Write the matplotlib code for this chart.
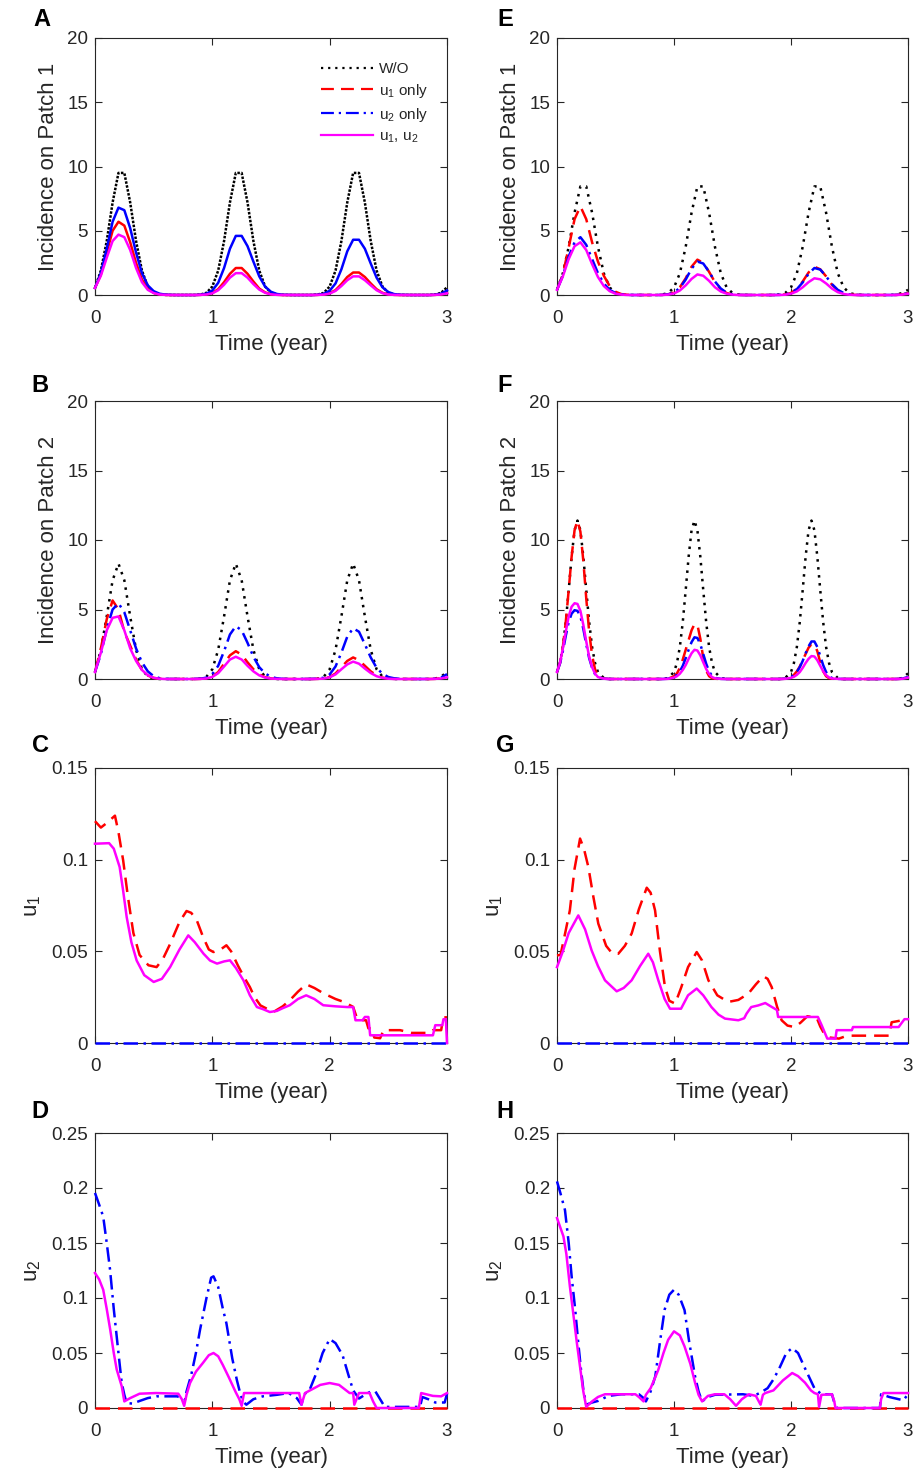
import numpy as np
import matplotlib
matplotlib.use('Agg')
import matplotlib.pyplot as plt
from matplotlib.lines import Line2D

plt.rcParams['font.family'] = ['Liberation Sans', 'DejaVu Sans']
plt.rcParams['mathtext.fontset'] = 'custom'
plt.rcParams['mathtext.rm'] = 'Liberation Sans'
plt.rcParams['mathtext.it'] = 'Liberation Sans'
plt.rcParams['mathtext.bf'] = 'Liberation Sans:bold'

# ---------------- data ----------------
t_grid = np.round(np.arange(61) * 0.05, 3)   # sample times (years)

A_black = [0.55, 1.9, 4.2, 7.2, 9.5, 9.5, 7.2, 4.2, 1.9, 0.66, 0.17, 0.04, 0.01,
           0, 0, 0, 0, 0,
           0.04, 0.17, 0.66, 1.9, 4.2, 7.2, 9.5, 9.5, 7.2, 4.2, 1.9, 0.66, 0.17, 0.04, 0.01,
           0, 0, 0, 0, 0,
           0.04, 0.17, 0.66, 1.9, 4.2, 7.2, 9.5, 9.5, 7.2, 4.2, 1.9, 0.66, 0.17, 0.04, 0.01,
           0, 0, 0, 0, 0,
           0.04, 0.17, 0.6]
A_red = [0.55, 1.6, 3.3, 5.0, 5.7, 5.4, 4.1, 2.5, 1.2, 0.5, 0.18, 0.05, 0.01,
         0, 0, 0, 0, 0,
         0.01, 0.05, 0.16, 0.45, 1.0, 1.65, 2.1, 2.1, 1.65, 1.05, 0.5, 0.2, 0.06, 0.02, 0,
         0, 0, 0, 0, 0,
         0.01, 0.04, 0.14, 0.38, 0.85, 1.4, 1.75, 1.75, 1.4, 0.9, 0.45, 0.17, 0.05, 0.01, 0,
         0, 0, 0, 0, 0,
         0.01, 0.05, 0.16]
A_blue = [0.55, 1.7, 3.6, 5.7, 6.8, 6.6, 5.2, 3.3, 1.7, 0.75, 0.3, 0.1, 0.03,
          0.01, 0, 0, 0, 0,
          0.02, 0.1, 0.35, 0.95, 2.1, 3.6, 4.6, 4.6, 3.8, 2.6, 1.45, 0.65, 0.25, 0.08, 0.02,
          0.01, 0, 0, 0, 0,
          0.02, 0.09, 0.33, 0.9, 2.0, 3.4, 4.3, 4.3, 3.6, 2.45, 1.35, 0.6, 0.23, 0.07, 0.02,
          0.01, 0, 0, 0, 0,
          0.02, 0.1, 0.35]
A_mag = [0.55, 1.5, 2.9, 4.2, 4.7, 4.5, 3.5, 2.1, 1.0, 0.4, 0.15, 0.04, 0.01,
         0, 0, 0, 0, 0,
         0.01, 0.04, 0.13, 0.37, 0.8, 1.35, 1.7, 1.7, 1.35, 0.85, 0.42, 0.17, 0.05, 0.01, 0,
         0, 0, 0, 0, 0,
         0.01, 0.03, 0.11, 0.32, 0.7, 1.15, 1.45, 1.45, 1.15, 0.75, 0.37, 0.14, 0.04, 0.01, 0,
         0, 0, 0, 0, 0,
         0.01, 0.04, 0.13]

E_black = [0.4, 1.69, 3.75, 6.4, 8.45, 8.45, 6.4, 3.75, 1.69, 0.59, 0.15, 0.04, 0.01,
           0, 0, 0, 0, 0,
           0.04, 0.15, 0.59, 1.69, 3.75, 6.4, 8.45, 8.45, 6.4, 3.75, 1.69, 0.59, 0.15, 0.04, 0.01,
           0, 0, 0, 0, 0,
           0.04, 0.15, 0.59, 1.69, 3.75, 6.4, 8.45, 8.45, 6.4, 3.75, 1.69, 0.59, 0.15, 0.04, 0.01,
           0, 0, 0, 0, 0,
           0.04, 0.15, 0.4]
E_red = [0.4, 1.6, 3.7, 5.9, 6.9, 5.9, 4.1, 2.6, 1.5, 0.7, 0.25, 0.07, 0.02,
         0.01, 0, 0, 0, 0,
         0.01, 0.05, 0.2, 0.6, 1.3, 2.2, 2.75, 2.5, 1.8, 1.0, 0.45, 0.15, 0.04, 0.01, 0,
         0, 0, 0, 0, 0,
         0.01, 0.04, 0.16, 0.48, 1.05, 1.75, 2.2, 2.0, 1.45, 0.8, 0.36, 0.12, 0.03, 0.01, 0,
         0, 0, 0, 0, 0,
         0.01, 0.04, 0.15]
E_blue = [0.4, 1.5, 3.0, 4.1, 4.5, 3.9, 2.8, 1.7, 0.9, 0.4, 0.15, 0.05, 0.01,
          0, 0, 0, 0, 0,
          0.01, 0.05, 0.2, 0.55, 1.2, 2.05, 2.6, 2.45, 1.8, 1.05, 0.5, 0.18, 0.05, 0.01, 0,
          0, 0, 0, 0, 0,
          0.01, 0.04, 0.16, 0.45, 0.98, 1.65, 2.1, 1.98, 1.45, 0.85, 0.4, 0.15, 0.04, 0.01, 0,
          0, 0, 0, 0, 0,
          0.01, 0.04, 0.15]
E_mag = [0.4, 1.45, 2.8, 3.8, 4.1, 3.5, 2.4, 1.4, 0.7, 0.3, 0.1, 0.03, 0,
         0, 0, 0, 0, 0,
         0, 0.03, 0.12, 0.35, 0.75, 1.25, 1.6, 1.5, 1.1, 0.6, 0.27, 0.1, 0.03, 0, 0,
         0, 0, 0, 0, 0,
         0, 0.02, 0.1, 0.28, 0.6, 1.0, 1.3, 1.22, 0.9, 0.5, 0.22, 0.08, 0.02, 0, 0,
         0, 0, 0, 0, 0,
         0, 0.03, 0.1]

B_black = [0.5, 2.1, 4.5, 7.1, 8.3, 7.1, 4.5, 2.1, 0.7, 0.17, 0.03, 0, 0,
           0, 0, 0, 0, 0,
           0.03, 0.17, 0.7, 2.1, 4.5, 7.1, 8.3, 7.1, 4.5, 2.1, 0.7, 0.17, 0.03, 0, 0,
           0, 0, 0, 0, 0,
           0.03, 0.17, 0.7, 2.1, 4.5, 7.1, 8.3, 7.1, 4.5, 2.1, 0.7, 0.17, 0.03, 0, 0,
           0, 0, 0, 0, 0,
           0.03, 0.17, 0.5]
B_red = [0.5, 2.2, 4.3, 5.65, 5.0, 3.4, 2.4, 1.4, 0.65, 0.25, 0.08, 0.02, 0,
         0, 0, 0, 0, 0,
         0.01, 0.05, 0.18, 0.5, 1.1, 1.7, 2.0, 1.75, 1.2, 0.7, 0.33, 0.13, 0.04, 0.01, 0,
         0, 0, 0, 0, 0,
         0.01, 0.04, 0.14, 0.4, 0.85, 1.3, 1.55, 1.35, 0.95, 0.55, 0.26, 0.1, 0.03, 0.01, 0,
         0, 0, 0, 0, 0,
         0.01, 0.05, 0.15]
B_blue = [0.5, 1.8, 3.6, 5.0, 5.45, 4.8, 3.5, 2.2, 1.2, 0.55, 0.2, 0.06, 0.01,
          0, 0, 0, 0, 0.01,
          0.02, 0.1, 0.35, 0.95, 2.0, 3.2, 3.8, 3.5, 2.6, 1.6, 0.85, 0.4, 0.15, 0.05, 0.01,
          0, 0, 0, 0, 0.01,
          0.02, 0.1, 0.33, 0.9, 1.9, 3.05, 3.65, 3.4, 2.5, 1.55, 0.8, 0.38, 0.14, 0.05, 0.01,
          0, 0, 0, 0, 0.01,
          0.02, 0.1, 0.35]
B_mag = [0.5, 1.9, 3.5, 4.4, 4.5, 3.5, 2.2, 1.3, 0.65, 0.27, 0.08, 0.02, 0,
         0, 0, 0, 0, 0,
         0.01, 0.04, 0.15, 0.42, 0.9, 1.4, 1.6, 1.4, 0.95, 0.55, 0.26, 0.1, 0.03, 0.01, 0,
         0, 0, 0, 0, 0,
         0.01, 0.03, 0.12, 0.33, 0.7, 1.05, 1.25, 1.1, 0.75, 0.43, 0.2, 0.08, 0.02, 0, 0,
         0, 0, 0, 0, 0,
         0.01, 0.04, 0.12]

t_F = [0, 0.025, 0.05, 0.075, 0.1, 0.125, 0.15, 0.175, 0.2, 0.225, 0.25, 0.275, 0.3, 0.325, 0.35, 0.4, 0.45, 0.5,
       0.9, 0.95, 1.0, 1.025, 1.05, 1.075, 1.1, 1.125, 1.15, 1.175, 1.2, 1.225, 1.25, 1.275, 1.3, 1.325, 1.35, 1.4, 1.45, 1.5,
       1.9, 1.95, 2.0, 2.025, 2.05, 2.075, 2.1, 2.125, 2.15, 2.175, 2.2, 2.225, 2.25, 2.275, 2.3, 2.325, 2.35, 2.4, 2.45, 2.5,
       2.9, 2.95, 3.0]
F_black = [0.5, 1.15, 2.3, 4.1, 6.4, 8.8, 10.7, 11.4, 10.7, 8.8, 6.4, 4.1, 2.3, 1.15, 0.5, 0.07, 0, 0,
           0, 0.07, 0.5, 1.15, 2.3, 4.1, 6.4, 8.8, 10.7, 11.4, 10.7, 8.8, 6.4, 4.1, 2.3, 1.15, 0.5, 0.07, 0, 0,
           0, 0.07, 0.5, 1.15, 2.3, 4.1, 6.4, 8.8, 10.7, 11.4, 10.7, 8.8, 6.4, 4.1, 2.3, 1.15, 0.5, 0.07, 0, 0,
           0, 0.07, 0.4]
F_red = [0.5, 1.15, 2.3, 4.1, 6.4, 8.8, 10.7, 11.4, 10.6, 8.5, 5.8, 3.4, 1.7, 0.7, 0.25, 0.03, 0, 0,
         0, 0.02, 0.2, 0.4, 0.8, 1.4, 2.1, 2.8, 3.5, 3.95, 3.9, 2.9, 1.5, 0.6, 0.2, 0.06, 0.02, 0, 0, 0,
         0, 0.02, 0.15, 0.3, 0.55, 0.9, 1.35, 1.8, 2.25, 2.5, 2.5, 2.0, 1.2, 0.55, 0.2, 0.06, 0.02, 0, 0, 0,
         0, 0.02, 0.15]
F_blue = [0.5, 1.1, 2.0, 3.1, 4.1, 4.7, 4.95, 4.9, 4.5, 3.6, 2.5, 1.5, 0.8, 0.35, 0.13, 0.02, 0, 0,
          0, 0.02, 0.15, 0.3, 0.55, 0.95, 1.5, 2.1, 2.65, 3.0, 2.95, 2.5, 1.8, 1.1, 0.55, 0.22, 0.08, 0.01, 0, 0,
          0, 0.02, 0.13, 0.27, 0.5, 0.85, 1.3, 1.85, 2.35, 2.7, 2.7, 2.3, 1.65, 1.0, 0.5, 0.2, 0.07, 0.01, 0, 0,
          0, 0.02, 0.15]
F_mag = [0.5, 1.15, 2.2, 3.4, 4.5, 5.2, 5.45, 5.4, 4.9, 3.9, 2.7, 1.6, 0.85, 0.38, 0.14, 0.02, 0, 0,
         0, 0.01, 0.1, 0.2, 0.38, 0.65, 1.0, 1.45, 1.85, 2.1, 2.05, 1.7, 1.2, 0.72, 0.36, 0.14, 0.05, 0.01, 0, 0,
         0, 0.01, 0.08, 0.16, 0.3, 0.5, 0.8, 1.15, 1.45, 1.65, 1.62, 1.35, 0.95, 0.56, 0.28, 0.11, 0.04, 0.01, 0, 0,
         0, 0.01, 0.1]

# controls (t, value)
C_red_t = [0, 0.05, 0.1, 0.17, 0.2, 0.24, 0.28, 0.327, 0.38, 0.455, 0.525, 0.58, 0.64, 0.72, 0.78, 0.82, 0.867,
           0.92, 0.97, 1.01, 1.07, 1.12, 1.16, 1.22, 1.27, 1.32, 1.36, 1.41, 1.52, 1.6, 1.66, 1.73, 1.8, 1.87,
           1.95, 2.05, 2.12, 2.2, 2.23, 2.26, 2.31, 2.33, 2.36, 2.38, 2.43, 2.46, 2.6, 2.7, 2.85, 2.88, 2.95,
           2.97, 3.0]
C_red = [0.121, 0.1175, 0.12, 0.124, 0.115, 0.0996, 0.08, 0.06, 0.048, 0.0424, 0.0414, 0.046, 0.054, 0.066,
         0.072, 0.071, 0.067, 0.058, 0.051, 0.0496, 0.051, 0.0533, 0.05, 0.042, 0.036, 0.0305, 0.025, 0.0205,
         0.0169, 0.02, 0.0233, 0.028, 0.032, 0.03, 0.027, 0.024, 0.0224, 0.0197, 0.014, 0.0124, 0.0124, 0.008,
         0.008, 0.003, 0.0026, 0.007, 0.007, 0.0055, 0.0055, 0.007, 0.007, 0.014, 0.014]
C_mag_t = [0, 0.12, 0.16, 0.21, 0.24, 0.27, 0.31, 0.355, 0.42, 0.5, 0.57, 0.64, 0.72, 0.795, 0.85, 0.925, 0.98,
           1.04, 1.1, 1.15, 1.2, 1.265, 1.32, 1.38, 1.43, 1.49, 1.55, 1.6, 1.66, 1.73, 1.8, 1.87, 1.945, 2.05,
           2.15, 2.2, 2.22, 2.28, 2.3, 2.33, 2.345, 2.88, 2.9, 2.96, 2.97, 2.99, 3.0]
C_mag = [0.1087, 0.109, 0.106, 0.096, 0.083, 0.0687, 0.055, 0.045, 0.037, 0.0333, 0.035, 0.0414, 0.051, 0.0587,
         0.055, 0.0487, 0.045, 0.0433, 0.0445, 0.0451, 0.041, 0.0342, 0.026, 0.0196, 0.0185, 0.0169, 0.0175,
         0.019, 0.0206, 0.024, 0.026, 0.024, 0.0206, 0.02, 0.0196, 0.0196, 0.0124, 0.0124, 0.0142, 0.0142,
         0.0042, 0.0042, 0.0097, 0.0097, 0.013, 0.013, 0.0]
G_red_t = [0, 0.03, 0.07, 0.11, 0.15, 0.197, 0.23, 0.268, 0.31, 0.353, 0.42, 0.47, 0.524, 0.58, 0.638, 0.7, 0.767,
           0.8, 0.838, 0.88, 0.923, 0.96, 1.01, 1.06, 1.12, 1.194, 1.24, 1.294, 1.37, 1.464, 1.55, 1.635, 1.7,
           1.763, 1.8, 1.835, 1.88, 1.92, 1.97, 2.03, 2.08, 2.14, 2.22, 2.25, 2.28, 2.33, 2.41, 2.48, 2.84, 2.86,
           3.0]
G_red = [0.0478, 0.048, 0.06, 0.0724, 0.095, 0.1115, 0.106, 0.096, 0.08, 0.0651, 0.053, 0.049, 0.0487, 0.053,
         0.0597, 0.073, 0.0847, 0.082, 0.0724, 0.05, 0.0305, 0.023, 0.0215, 0.03, 0.0414, 0.0496, 0.045, 0.0342,
         0.026, 0.0224, 0.0235, 0.0269, 0.032, 0.0364, 0.035, 0.0305, 0.02, 0.0124, 0.0095, 0.0087, 0.011,
         0.0146, 0.0137, 0.009, 0.0055, 0.003, 0.0024, 0.004, 0.004, 0.0113, 0.013]
G_mag_t = [0, 0.05, 0.1, 0.182, 0.24, 0.296, 0.35, 0.41, 0.51, 0.57, 0.638, 0.71, 0.78, 0.82, 0.866, 0.92, 0.966,
           1.06, 1.12, 1.194, 1.25, 1.32, 1.38, 1.436, 1.55, 1.6, 1.62, 1.66, 1.72, 1.78, 1.84, 1.88, 1.89, 2.23,
           2.26, 2.31, 2.38, 2.39, 2.52, 2.53, 2.92, 2.95, 2.97, 3.0]
G_mag = [0.0414, 0.05, 0.06, 0.0696, 0.062, 0.0505, 0.042, 0.0342, 0.0282, 0.03, 0.0342, 0.042, 0.0487, 0.044,
         0.0342, 0.024, 0.0187, 0.0187, 0.026, 0.0297, 0.026, 0.0196, 0.0155, 0.0133, 0.0124, 0.0135, 0.016,
         0.0196, 0.0205, 0.0218, 0.0195, 0.018, 0.0142, 0.0142, 0.01, 0.0024, 0.0024, 0.007, 0.007, 0.0087,
         0.0087, 0.0113, 0.013, 0.013]
u1_blue_t = [0, 3]
u1_blue = [0, 0]

D_blue_t = [0, 0.035, 0.07, 0.1, 0.128, 0.16, 0.185, 0.21, 0.228, 0.25, 0.27, 0.32, 0.38, 0.45, 0.526, 0.7, 0.74,
            0.767, 0.78, 0.82, 0.86, 0.895, 0.95, 0.99, 1.01, 1.05, 1.09, 1.12, 1.17, 1.21, 1.237, 1.26, 1.29,
            1.35, 1.43, 1.55, 1.65, 1.72, 1.76, 1.78, 1.83, 1.88, 1.94, 2.0, 2.05, 2.11, 2.16, 2.2, 2.25, 2.3,
            2.35, 2.39, 2.43, 2.47, 2.77, 2.79, 2.84, 2.9, 2.98, 3.0]
D_blue = [0.1955, 0.185, 0.174, 0.15, 0.126, 0.09, 0.065, 0.04, 0.0227, 0.012, 0.0045, 0.004, 0.0064, 0.009,
          0.0106, 0.0106, 0.009, 0.0075, 0.015, 0.03, 0.05, 0.071, 0.1, 0.1185, 0.1197, 0.11, 0.09, 0.077, 0.045,
          0.025, 0.0136, 0.006, 0.003, 0.008, 0.0106, 0.012, 0.0136, 0.009, 0.003, 0.012, 0.0167, 0.03, 0.05,
          0.0627, 0.059, 0.048, 0.03, 0.016, 0.0086, 0.012, 0.015, 0.015, 0.008, 0.001, 0.001, 0.01, 0.008,
          0.005, 0.005, 0.013]
D_mag_t = [0, 0.035, 0.07, 0.1, 0.13, 0.16, 0.185, 0.228, 0.25, 0.3, 0.38, 0.52, 0.71, 0.74, 0.76, 0.78, 0.81,
           0.86, 0.92, 0.97, 1.01, 1.05, 1.09, 1.14, 1.2, 1.23, 1.25, 1.27, 1.43, 1.74, 1.76, 1.79, 1.85, 1.92,
           2.0, 2.08, 2.17, 2.2, 2.21, 2.25, 2.34, 2.37, 2.4, 2.76, 2.78, 2.88, 2.95, 3.0]
D_mag = [0.1227, 0.117, 0.1075, 0.09, 0.071, 0.05, 0.035, 0.0197, 0.006, 0.009, 0.013, 0.0136, 0.013, 0.008,
         0.002, 0.012, 0.0227, 0.033, 0.041, 0.048, 0.05, 0.047, 0.039, 0.028, 0.0142, 0.008, 0.002, 0.0136,
         0.0136, 0.0136, 0.003, 0.0136, 0.017, 0.021, 0.0227, 0.021, 0.0136, 0.0136, 0.003, 0.0136, 0.0136,
         0.006, 0.0, 0.0, 0.0136, 0.011, 0.0106, 0.0136]
H_blue_t = [0, 0.03, 0.068, 0.1, 0.125, 0.155, 0.182, 0.205, 0.225, 0.25, 0.3, 0.35, 0.44, 0.55, 0.7, 0.74, 0.76,
            0.8, 0.84, 0.88, 0.92, 0.96, 1.0, 1.04, 1.09, 1.13, 1.18, 1.21, 1.24, 1.29, 1.35, 1.59, 1.68, 1.74,
            1.8, 1.85, 1.9, 1.96, 2.01, 2.06, 2.12, 2.2, 2.26, 2.35, 2.37, 2.39, 2.76, 2.77, 2.84, 2.96, 3.0]
H_blue = [0.206, 0.195, 0.18, 0.15, 0.1197, 0.09, 0.059, 0.035, 0.0167, 0.003, 0.005, 0.0064, 0.011, 0.0125,
          0.0125, 0.009, 0.006, 0.015, 0.0288, 0.06, 0.0894, 0.103, 0.1075, 0.103, 0.089, 0.06, 0.0288, 0.015,
          0.006, 0.01, 0.012, 0.0125, 0.011, 0.014, 0.018, 0.026, 0.036, 0.05, 0.0545, 0.05, 0.036, 0.018,
          0.0125, 0.0125, 0.005, 0.0, 0.0, 0.0125, 0.01, 0.007, 0.0125]
H_mag_t = [0, 0.055, 0.08, 0.11, 0.14, 0.17, 0.2, 0.225, 0.25, 0.3, 0.35, 0.41, 0.67, 0.7, 0.74, 0.76, 0.8, 0.84,
           0.866, 0.91, 0.95, 1.0, 1.05, 1.09, 1.14, 1.18, 1.21, 1.24, 1.29, 1.35, 1.43, 1.48, 1.53, 1.58, 1.64,
           1.7, 1.74, 1.76, 1.78, 1.85, 1.93, 2.01, 2.06, 2.12, 2.17, 2.2, 2.23, 2.24, 2.26, 2.35, 2.37, 2.38,
           2.76, 2.77, 2.79, 3.0]
H_mag = [0.1727, 0.156, 0.14, 0.1106, 0.085, 0.059, 0.035, 0.015, 0.001, 0.006, 0.01, 0.0125, 0.0125, 0.01,
         0.006, 0.012, 0.018, 0.028, 0.0348, 0.05, 0.062, 0.0697, 0.066, 0.056, 0.04, 0.023, 0.012, 0.006, 0.011,
         0.0125, 0.0125, 0.008, 0.002, 0.008, 0.0125, 0.011, 0.003, 0.012, 0.0136, 0.016, 0.025, 0.0318, 0.029,
         0.023, 0.016, 0.0136, 0.0125, 0.001, 0.012, 0.0125, 0.006, 0.0, 0.0, 0.008, 0.0136, 0.0136]
u2_red_t = [0, 3]
u2_red = [0, 0]

x_ticks = [0, 1, 2, 3]
inc_ticks = [0, 5, 10, 15, 20]
u1_ticks = [0, 0.05, 0.1, 0.15]
u1_ticklabels = ['0', '0.05', '0.1', '0.15']
u2_ticks = [0, 0.05, 0.1, 0.15, 0.2, 0.25]
u2_ticklabels = ['0', '0.05', '0.1', '0.15', '0.2', '0.25']
legend_labels = ['W/O', r'u$_1$ only', r'u$_2$ only', r'u$_1$, u$_2$']

# ---------------- styles ----------------
LW = 1.8
BLACK, RED, BLUE, MAG = '#000000', '#FF0000', '#0000FF', '#FF00FF'
DOT = (0, (1.0, 2.2))
DOT_DENSE = (0, (1.0, 0.6))
DASH = (0, (5.8, 3.2))
DASHDOT = (0, (5.8, 2.2, 1.0, 2.2))
TXT = '#262626'

W, H = 922, 1473
fig = plt.figure(figsize=(W / 100, H / 100), dpi=100)
cols = [(95, 447), (557, 908)]
rows = [(38, 295), (401, 679), (768, 1043), (1133, 1408)]


def make_ax(c, r):
    x0, x1 = cols[c]
    y0, y1 = rows[r]
    return fig.add_axes([x0 / W, 1 - y1 / H, (x1 - x0) / W, (y1 - y0) / H])


def style(ax, ylim, yticks, yticklabels, ylabel):
    ax.set_xlim(0, 3)
    ax.set_ylim(*ylim)
    ax.set_xticks(x_ticks)
    ax.set_xticklabels([str(v) for v in x_ticks])
    ax.set_yticks(yticks)
    ax.set_yticklabels(yticklabels)
    ax.tick_params(direction='in', top=True, right=True, length=5, width=0.8,
                   labelsize=13.5, colors=TXT, pad=5)
    ax.tick_params(axis='x', pad=11)
    for s in ax.spines.values():
        s.set_color(TXT)
        s.set_linewidth(0.8)
    ax.set_xlabel('Time (year)', fontsize=16, color=TXT, labelpad=5)
    ax.set_ylabel(ylabel, fontsize=16, color=TXT, labelpad=6)


def plot4(ax, t, blk, red, blu, mag, solid=False):
    ax.plot(t, blk, color=BLACK, lw=LW, ls=DOT_DENSE if solid else DOT, clip_on=False, zorder=2)
    ax.plot(t, red, color=RED, lw=LW, ls='-' if solid else DASH, clip_on=False, zorder=3)
    ax.plot(t, blu, color=BLUE, lw=LW, ls='-' if solid else DASHDOT, clip_on=False, zorder=4)
    ax.plot(t, mag, color=MAG, lw=LW, ls='-', clip_on=False, zorder=5)


inc_labels = [str(v) for v in inc_ticks]

axA = make_ax(0, 0)
plot4(axA, t_grid, A_black, A_red, A_blue, A_mag, solid=True)
style(axA, (0, 20), inc_ticks, inc_labels, 'Incidence on Patch 1')
handles = [Line2D([], [], color=BLACK, lw=1.6, ls=DOT),
           Line2D([], [], color=RED, lw=1.6, ls=DASH),
           Line2D([], [], color=BLUE, lw=1.6, ls=DASHDOT),
           Line2D([], [], color=MAG, lw=1.6, ls='-')]
axA.legend(handles, legend_labels, loc='upper right', bbox_to_anchor=(0.985, 0.96),
           frameon=False, fontsize=11, handlelength=3.4, handletextpad=0.4,
           labelspacing=0.38, labelcolor=TXT)

axE = make_ax(1, 0)
plot4(axE, t_grid, E_black, E_red, E_blue, E_mag)
style(axE, (0, 20), inc_ticks, inc_labels, 'Incidence on Patch 1')

axB = make_ax(0, 1)
plot4(axB, t_grid, B_black, B_red, B_blue, B_mag)
style(axB, (0, 20), inc_ticks, inc_labels, 'Incidence on Patch 2')

axF = make_ax(1, 1)
plot4(axF, t_F, F_black, F_red, F_blue, F_mag)
style(axF, (0, 20), inc_ticks, inc_labels, 'Incidence on Patch 2')

for c, (rt, rv, mt, mv) in enumerate([(C_red_t, C_red, C_mag_t, C_mag), (G_red_t, G_red, G_mag_t, G_mag)]):
    ax = make_ax(c, 2)
    ax.plot(rt, rv, color=RED, lw=LW, ls=DASH, clip_on=False, zorder=3)
    ax.plot(u1_blue_t, u1_blue, color=BLUE, lw=LW, ls=DASHDOT, clip_on=False, zorder=4)
    ax.plot(mt, mv, color=MAG, lw=LW, ls='-', clip_on=False, zorder=5)
    style(ax, (0, 0.15), u1_ticks, u1_ticklabels, r'u$_1$')

for c, (bt, bv, mt, mv) in enumerate([(D_blue_t, D_blue, D_mag_t, D_mag), (H_blue_t, H_blue, H_mag_t, H_mag)]):
    ax = make_ax(c, 3)
    ax.plot(u2_red_t, u2_red, color=RED, lw=LW, ls=DASH, clip_on=False, zorder=3)
    ax.plot(bt, bv, color=BLUE, lw=LW, ls=DASHDOT, clip_on=False, zorder=4)
    ax.plot(mt, mv, color=MAG, lw=LW, ls='-', clip_on=False, zorder=5)
    style(ax, (0, 0.25), u2_ticks, u2_ticklabels, r'u$_2$')

letters = [('A', 42, 20), ('B', 40, 385), ('C', 40, 745), ('D', 40, 1112),
           ('E', 505, 20), ('F', 505, 385), ('G', 505, 745), ('H', 505, 1112)]
for s, x, y in letters:
    fig.text(x / W, 1 - y / H, s, fontsize=17, fontweight='bold', ha='center', va='center', color='k')

fig.savefig('out.png', dpi=100)
